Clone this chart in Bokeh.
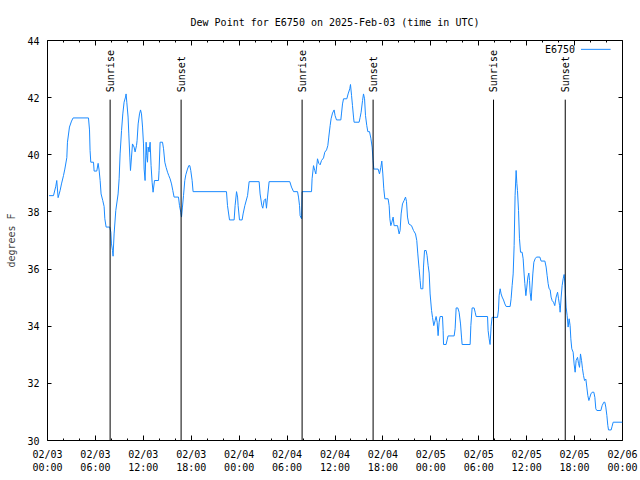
import numpy as np
from bokeh.plotting import figure
from bokeh.models import LinearAxis, FixedTicker, Label, Arrow, Range1d, ColumnDataSource
from bokeh.core.properties import value
from bokeh.embed import file_html
from bokeh.resources import INLINE

# Hours since 2025-02-03 00:00 UTC
hours = [0.20, 0.75, 1.04, 1.16, 1.33, 1.58, 1.75, 2.00, 2.17, 2.42, 2.50, 2.75, 3.01, 3.21, 5.13, 5.26,
         5.33, 5.42, 5.76, 5.84, 6.17, 6.34, 6.46, 6.59, 6.71, 6.92, 7.09, 7.18, 7.34, 7.80, 7.93, 8.01,
         8.14, 8.21, 8.34, 8.55, 8.84, 8.97, 9.09, 9.27, 9.43, 9.59, 9.77, 9.84, 9.93, 10.09, 10.18, 10.31,
         10.39, 10.52, 10.64, 10.84, 10.97, 11.15, 11.22, 11.35, 11.52, 11.65, 11.77, 11.90, 12.02, 12.10,
         12.22, 12.35, 12.43, 12.52, 12.60, 12.72, 12.85, 12.97, 13.10, 13.22, 13.40, 13.90, 13.97, 14.10,
         14.40, 14.53, 14.69, 14.85, 15.03, 15.19, 15.35, 15.53, 15.69, 15.85, 16.40, 16.53, 16.69, 16.78,
         16.90, 17.03, 17.19, 17.32, 17.53, 17.69, 17.82, 17.94, 18.11, 18.23,
         22.41, 22.54, 22.79, 23.37, 23.49, 23.67, 23.80, 23.87, 24.04, 24.37, 24.49, 24.71, 25.05, 25.25,
         26.50, 26.62, 26.84, 26.96, 27.12, 27.30, 27.42, 27.55, 27.75, 30.34, 30.55, 30.81, 31.31, 31.43,
         31.56, 31.63, 31.81, 31.88, 33.06, 33.13, 33.31, 33.47, 33.60, 33.81, 33.97, 34.14, 34.31, 34.56,
         34.72, 34.94, 35.10, 35.22, 35.39, 35.51, 35.69, 35.89, 36.01, 36.19, 36.73, 36.82, 36.94, 37.07,
         37.48, 37.64, 37.85, 37.94, 38.07, 38.19, 38.32, 38.39, 39.02, 39.14, 39.27, 39.45, 39.57, 39.70,
         39.82, 39.98, 40.11, 40.32, 40.49, 40.65, 40.77, 40.86, 41.40, 41.57, 41.74, 41.86, 41.99, 42.11,
         42.24, 42.65, 42.78, 42.87, 42.99, 43.12, 43.28, 43.40, 43.83, 44.03, 44.15, 44.28, 44.45, 44.65,
         44.83, 44.95, 45.08, 45.24, 45.58, 45.83, 46.08, 46.24, 46.37, 46.53, 46.66, 46.75, 47.00, 47.08,
         47.21, 47.41, 47.53, 47.66, 47.79, 47.91, 48.09, 48.21, 48.37, 48.54, 48.66, 48.79, 48.91, 49.04,
         49.16, 49.46, 49.54, 49.59, 49.91, 50.04, 50.16, 50.92, 51.04, 51.17, 51.38, 51.54, 51.72, 51.84,
         51.92, 52.92, 53.01, 53.17, 53.42, 53.55, 53.67, 55.10, 55.17, 55.30, 55.42, 55.55, 55.67, 56.35,
         56.47, 56.55, 56.68, 56.80, 56.93, 57.10, 57.27, 57.43, 57.93, 58.05, 58.18, 58.31, 58.43, 58.55,
         58.68, 58.77, 58.85, 58.98, 59.10, 59.23, 59.43, 59.56, 59.68, 59.77, 59.90, 60.02, 60.15, 60.27,
         60.36, 60.43, 60.56, 60.65, 60.77, 60.90, 61.06, 61.23, 61.65, 61.81, 62.28, 62.44, 62.56, 62.69,
         62.81, 62.94, 63.06, 63.19, 63.36, 63.52, 63.69, 63.87, 63.99, 64.12, 64.19, 64.32, 64.44, 64.57,
         64.69, 64.82, 64.94, 65.07, 65.19, 65.32, 65.44, 65.53, 65.65, 65.82, 65.94, 66.07, 66.19, 66.37,
         66.49, 66.62, 66.74, 66.87, 66.99, 67.12, 67.25, 67.41, 67.53, 67.66, 67.79, 67.91, 68.04, 68.20,
         68.41, 68.54, 68.66, 68.79, 69.29, 69.45, 69.66, 69.79, 69.91, 70.04, 70.16, 70.25, 70.58, 70.70,
         70.83, 72.00]

# Dew point, degrees F
dewpoint = [38.57, 38.57, 38.90, 39.10, 38.50, 38.75, 38.98, 39.27, 39.50, 39.90, 40.44, 40.97, 41.18, 41.29, 41.29, 40.87,
            40.15, 39.74, 39.74, 39.43, 39.43, 39.70, 39.47, 39.10, 38.63, 38.40, 38.19, 37.76, 37.47, 37.47, 37.29, 36.88,
            36.65, 36.45, 37.23, 38.05, 38.63, 39.16, 40.03, 40.85, 41.43, 41.84, 42.02, 42.13, 41.84, 41.32, 40.73, 39.92,
            39.45, 39.92, 40.38, 40.27, 40.10, 40.33, 40.50, 41.08, 41.43, 41.57, 41.43, 40.97, 40.38, 39.50,
            39.10, 40.44, 39.97, 39.74, 40.27, 40.10, 40.44, 39.62, 39.04, 38.69, 39.10, 39.10, 39.45, 40.44,
            40.44, 40.21, 39.74, 39.56, 39.39, 39.27, 39.16, 38.98, 38.75, 38.52, 38.52, 38.22, 37.99, 37.82,
            38.17, 38.57, 39.10, 39.30, 39.50, 39.62, 39.62, 39.45, 39.10, 38.71,
            38.71, 38.22, 37.72, 37.72, 38.22, 38.71, 38.52, 38.22, 37.72, 37.72, 37.93, 38.22, 38.57, 39.06,
            39.06, 38.63, 38.22, 38.13, 38.40, 38.46, 38.13, 38.52, 39.06, 39.06, 38.87, 38.71, 38.71, 38.52,
            38.22, 37.87, 37.76, 38.71, 38.71, 39.16, 39.62, 39.45, 39.33, 39.86, 39.70, 39.65, 39.80, 39.89,
            40.09, 40.17, 40.32, 40.62, 41.02, 41.26, 41.46, 41.57, 41.37, 41.22, 41.22, 41.46, 41.78, 41.96,
            41.96, 42.13, 42.31, 42.46, 42.08, 41.72, 41.32, 41.14, 41.14, 41.30, 41.49, 41.90, 42.13, 41.96,
            41.37, 41.02, 40.81, 40.81, 40.58, 40.27, 39.80, 39.50, 39.50, 39.33, 39.56, 39.78, 39.33, 38.81,
            38.46, 38.46, 38.22, 37.76, 37.52, 37.64, 37.82, 37.52, 37.52, 37.23, 37.35, 37.93, 38.28, 38.40,
            38.52, 38.37, 37.82, 37.58, 37.52, 37.35, 37.23, 37.00, 36.53, 36.01, 35.60, 35.31, 35.31, 36.07,
            36.65, 36.65, 36.47, 36.13, 35.86, 35.13, 34.55, 34.31, 34.02, 34.20, 34.34, 34.14, 33.67, 34.14,
            34.34, 34.34, 33.85, 33.36, 33.36, 33.52, 33.66, 33.66, 33.91, 34.64, 34.64, 34.49, 34.08, 33.62,
            33.36, 33.36, 34.02, 34.64, 34.64, 34.49, 34.34, 34.34, 33.85, 33.56, 33.36, 34.00, 34.31, 34.31,
            34.57, 35.07, 35.31, 35.13, 35.02, 34.92, 34.78, 34.69, 34.69, 34.96, 35.42, 35.83, 36.82, 38.57,
            39.45, 39.00, 38.75, 38.05, 37.06, 36.59, 36.59, 36.36, 35.83, 35.49, 35.07, 35.37, 35.72, 35.86,
            35.60, 35.19, 34.90, 35.30, 35.83, 36.24, 36.36, 36.42, 36.42, 36.28, 36.28, 36.07, 35.78, 35.49,
            35.31, 35.28, 35.02, 34.90, 34.84, 34.72, 35.02, 35.19, 34.96, 34.72, 34.49, 35.02, 35.42, 35.66,
            35.81, 35.37, 34.67, 34.37, 33.97, 34.26, 34.02, 33.56, 33.21, 33.09, 32.68, 32.39, 32.80, 32.91,
            32.70, 32.56, 33.03, 32.80, 32.51, 32.27, 32.10, 32.15, 31.87, 31.57, 31.40, 31.51, 31.63, 31.69,
            31.69, 31.51, 31.11, 31.05, 31.05, 31.22, 31.34, 31.34, 31.17, 30.88, 30.53, 30.37, 30.37, 30.50,
            30.64, 30.64]

event_hours = [7.84, 16.73, 31.88, 40.77, 55.85, 64.83]
event_names = ["Sunrise", "Sunset", "Sunrise", "Sunset", "Sunrise", "Sunset"]

x_ticks = [0, 6, 12, 18, 24, 30, 36, 42, 48, 54, 60, 66, 72]
x_minor = [h for h in range(0, 73, 2) if h % 6 != 0]
x_tick_labels = ["02/03\n00:00", "02/03\n06:00", "02/03\n12:00", "02/03\n18:00",
                 "02/04\n00:00", "02/04\n06:00", "02/04\n12:00", "02/04\n18:00",
                 "02/05\n00:00", "02/05\n06:00", "02/05\n12:00", "02/05\n18:00",
                 "02/06\n00:00"]
y_ticks = [30, 32, 34, 36, 38, 40, 42, 44]

FONT = "DejaVu Sans Mono"
BLUE = "#1A8AFF"

p = figure(width=640, height=480, x_range=Range1d(0, 72), y_range=Range1d(30, 44),
           output_backend="svg", toolbar_location=None,
           min_border_left=47, min_border_right=18, min_border_top=40, min_border_bottom=40,
           title="Dew Point for E6750 on 2025-Feb-03 (time in UTC)")
p.title.align = "center"
p.title.text_font = FONT
p.title.text_font_size = "10px"
p.title.text_font_style = "normal"
p.title.text_color = "black"
p.title.standoff = 25

p.xgrid.visible = False
p.ygrid.visible = False
p.outline_line_color = "black"
p.outline_line_width = 1
p.background_fill_color = "white"
p.border_fill_color = "white"

xt = FixedTicker(ticks=x_ticks, minor_ticks=x_minor)
yt = FixedTicker(ticks=y_ticks, minor_ticks=[])

def style_axis(ax, major_in):
    ax.axis_line_color = None
    ax.major_tick_in = major_in
    ax.major_tick_out = 0
    ax.minor_tick_in = 2
    ax.minor_tick_out = 0
    ax.major_tick_line_color = "black"
    ax.minor_tick_line_color = "black"
    ax.major_label_text_font = FONT
    ax.major_label_text_font_size = "10px"
    ax.major_label_text_color = "black"

bx = p.below[0]
bx.ticker = xt
bx.major_label_overrides = dict(zip(x_ticks, x_tick_labels))
style_axis(bx, 5)
bx.major_label_standoff = 8

ly = p.left[0]
ly.ticker = yt
style_axis(ly, 4)
ly.major_label_standoff = 8
ly.axis_label = "degrees F"
ly.axis_label_text_font = FONT
ly.axis_label_text_font_size = "10px"
ly.axis_label_text_font_style = "normal"
ly.axis_label_standoff = 7

# mirrored tick marks on top and right (no labels)
tx = LinearAxis(ticker=xt)
style_axis(tx, 5)
tx.major_label_text_color = None
tx.major_label_standoff = 0
tx.major_label_text_font_size = "1px"
p.add_layout(tx, "above")

ry = LinearAxis(ticker=yt)
style_axis(ry, 4)
ry.major_label_text_color = None
ry.major_label_standoff = 0
ry.major_label_text_font_size = "1px"
p.add_layout(ry, "right")

# data line
p.line(hours, dewpoint, line_color=BLUE, line_width=1)

# sunrise / sunset markers
ev = ColumnDataSource(dict(x=event_hours, name=event_names))
p.segment(x0="x", y0=30, x1="x", y1=41.93, source=ev, line_color="black", line_width=1)
p.text(x="x", y=42.19, text="name", source=ev, angle=np.pi / 2, text_align="left",
       text_baseline="middle", text_font=value(FONT), text_font_size="10px", text_color="black")

# legend (text then line sample, gnuplot style)
p.add_layout(Label(x=66.05, y=43.69, text="E6750", text_align="right", text_baseline="middle",
                   text_font=FONT, text_font_size="10px", text_color="black"))
p.add_layout(Arrow(end=None, x_start=66.8, y_start=43.69, x_end=70.51, y_end=43.69,
                   line_color=BLUE, line_width=1))

open("out.html", "w").write(file_html(p, INLINE))
